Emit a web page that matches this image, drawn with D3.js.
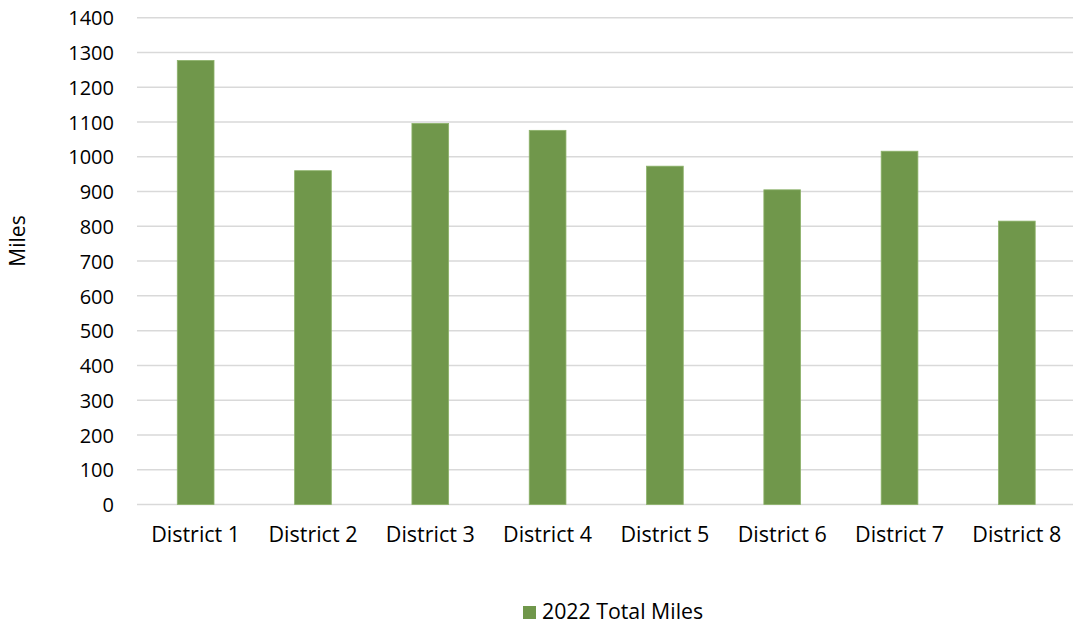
<!DOCTYPE html>
<html>
<head>
<meta charset="utf-8">
<script src="https://cdn.jsdelivr.net/npm/d3@7"></script>
<style>
  html, body { margin: 0; padding: 0; background: #ffffff; }
  svg { display: block; font-family: "Open Sans", "Liberation Sans", sans-serif; }
</style>
</head>
<body>
<svg id="chart" width="1073" height="626"></svg>
<script>
const categories = ["District 1", "District 2", "District 3", "District 4", "District 5", "District 6", "District 7", "District 8"];
const miles2022 = [1277, 960, 1096, 1076, 973, 905, 1016, 815];
const yTicks = [0, 100, 200, 300, 400, 500, 600, 700, 800, 900, 1000, 1100, 1200, 1300, 1400];
const seriesName = "2022 Total Miles";
const yTitle = "Miles";

const svg = d3.select("#chart");
const plot = { left: 137, right: 1075.5, top: 17.7, bottom: 504.5 };

const x = d3.scaleBand().domain(categories).range([plot.left, plot.right]).paddingInner(0.687).paddingOuter(0.3435);
const y = d3.scaleLinear().domain([0, 1400]).range([plot.bottom, plot.top]);

const barColor = "#70974B";

// gridlines
svg.append("g").selectAll("line").data(yTicks).join("line")
  .attr("x1", plot.left).attr("x2", plot.right)
  .attr("y1", d => y(d)).attr("y2", d => y(d))
  .attr("stroke", "#D9D9D9").attr("stroke-width", 1.5);

// y axis labels
const yAxis = d3.axisLeft(y).tickValues(yTicks).tickSize(0).tickPadding(0).tickFormat(d3.format("d"));
const gy = svg.append("g").attr("transform", `translate(114,0)`).call(yAxis);
gy.select(".domain").remove();
gy.selectAll("text").attr("font-size", 20).attr("fill", "#000").attr("font-family", "Open Sans").attr("dy", "0.36em");

// bars
svg.append("g").selectAll("rect").data(miles2022).join("rect")
  .attr("x", (d, i) => x(categories[i]))
  .attr("width", x.bandwidth())
  .attr("y", d => y(d))
  .attr("height", d => y(0) - y(d))
  .attr("fill", barColor)
  .attr("stroke", "#8DB26A").attr("stroke-width", 0.8);

// x axis labels
const xAxis = d3.axisBottom(x).tickSize(0).tickPadding(0);
const gx = svg.append("g").attr("transform", `translate(0,${plot.bottom})`).call(xAxis);
gx.select(".domain").remove();
gx.selectAll("text").attr("font-size", 21.5).attr("fill", "#000").attr("font-family", "Open Sans")
  .attr("dy", null).attr("y", 37.5);

// y title
svg.append("text")
  .attr("transform", "translate(25,241) rotate(-90)")
  .attr("text-anchor", "middle")
  .attr("font-size", 21).attr("fill", "#000")
  .text(yTitle);

// legend
const lg = svg.append("g");
lg.append("rect").attr("x", 523).attr("y", 606).attr("width", 13).attr("height", 13).attr("fill", barColor);
lg.append("text").attr("x", 542).attr("y", 618.5).attr("font-size", 21.3).attr("fill", "#000").text(seriesName);
</script>
</body>
</html>
